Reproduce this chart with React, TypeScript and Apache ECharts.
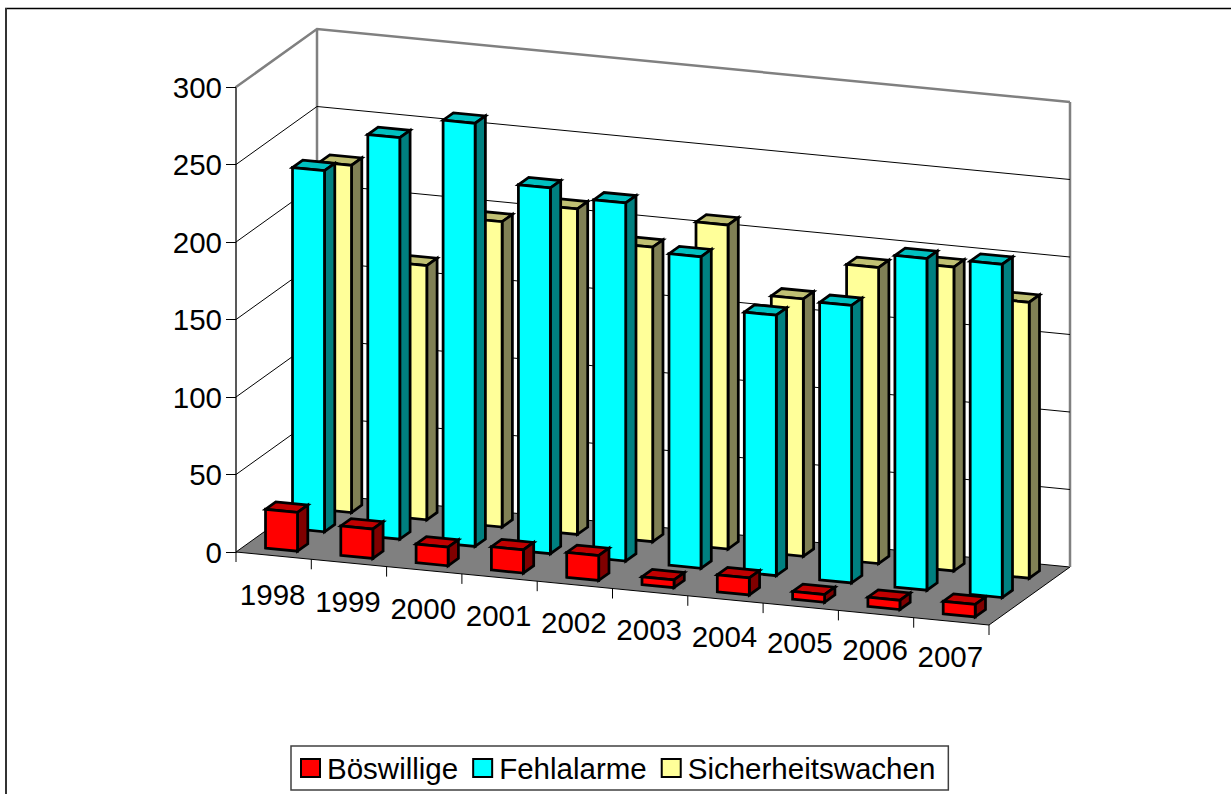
import React, { useEffect, useRef } from "react";
import * as echarts from "echarts";

const years = ["1998","1999","2000","2001","2002","2003","2004","2005","2006","2007"];
const yTicks = [0, 50, 100, 150, 200, 250, 300];
const boeswillige = [25, 19, 12, 15, 16, 5, 11, 5, 6, 8];
const fehlalarme = [233, 259, 273, 236, 231, 201, 168, 179, 214, 215];
const sicherheitswachen = [224, 164, 197, 210, 190, 209, 166, 191, 196, 178];

const FONT = "Liberation Sans";
const GX = 236, GY = 87, GW = 753, GH = 465;
const SHEAR = 73 / 753;
const DX = 81, DY = -58;
const BAR_W = 0.425; // of band
const BAR_D = 0.127; // of depth
const palette = [
  { name: "Böswillige", face: "#FF0000", top: "#C00000", side: "#800000", values: boeswillige, row: 0 },
  { name: "Fehlalarme", face: "#00FFFF", top: "#00C0C0", side: "#008080", values: fehlalarme, row: 1 },
  { name: "Sicherheitswachen", face: "#FFFF99", top: "#C0C073", side: "#808055", values: sicherheitswachen, row: 2 },
];

function proj(x: number, y: number, d: number): number[] {
  return [x + d * DX, y + (x - GX) * SHEAR + d * DY];
}

function barRender(row: number, colors: { face: string; top: string; side: string }) {
  return (params: any, api: any) => {
    const i = api.value(0);
    const v = api.value(1);
    const band = api.size([1, 0])[0];
    const c1 = api.coord([i, v]);
    const c0 = api.coord([i, 0]);
    const xl = c0[0] - (BAR_W * band) / 2 - 0.5;
    const xr = xl + BAR_W * band;
    const d0 = row / 3 + (1 / 3 - BAR_D) / 2;
    const d1 = d0 + BAR_D;
    const yB = c0[1], yT = c1[1];
    const style = (fill: string) => ({ fill, stroke: "#000", lineWidth: 2.75, lineJoin: "miter" });
    return {
      type: "group",
      children: [
        { type: "polygon", shape: { points: [proj(xl, yT, d0), proj(xr, yT, d0), proj(xr, yT, d1), proj(xl, yT, d1)] }, style: style(colors.top) },
        { type: "polygon", shape: { points: [proj(xr, yB, d0), proj(xr, yT, d0), proj(xr, yT, d1), proj(xr, yB, d1)] }, style: style(colors.side) },
        { type: "polygon", shape: { points: [proj(xl, yB, d0), proj(xr, yB, d0), proj(xr, yT, d0), proj(xl, yT, d0)] }, style: style(colors.face) },
      ],
    };
  };
}

function gridRender(params: any, api: any) {
  const v = api.value(0);
  const band = api.size([1, 0])[0];
  const c = api.coord([0, v]);
  const xl = c[0] - band / 2;
  const xr = xl + 10 * band;
  const y = c[1];
  const top = v === 300;
  const st = { stroke: top ? "#808080" : "#000", lineWidth: top ? 2.5 : 1, fill: "none" };
  return {
    type: "polyline",
    shape: { points: [proj(xl, y, 0), proj(xl, y, 1), proj(xr, y, 1)] },
    style: st,
  };
}

function wallRender(params: any, api: any) {
  const band = api.size([1, 0])[0];
  const c0 = api.coord([0, 0]);
  const c3 = api.coord([0, 300]);
  const xl = c0[0] - band / 2;
  const xr = xl + 10 * band;
  const y0 = c0[1], y3 = c3[1];
  const gray = { stroke: "#808080", lineWidth: 2.5, fill: "none" };
  return {
    type: "group",
    children: [
      { type: "polygon", shape: { points: [proj(xl, y0, 0), proj(xr, y0, 0), proj(xr, y0, 1), proj(xl, y0, 1)] }, style: { fill: "#808080", stroke: "#000", lineWidth: 1 } },
      { type: "line", shape: { x1: proj(xl, y0, 1)[0], y1: proj(xl, y0, 1)[1], x2: proj(xl, y3, 1)[0], y2: proj(xl, y3, 1)[1] }, style: gray },
      { type: "line", shape: { x1: proj(xr, y0, 1)[0], y1: proj(xr, y0, 1)[1], x2: proj(xr, y3, 1)[0], y2: proj(xr, y3, 1)[1] }, style: gray },
    ],
  };
}

function xAxisRender(params: any, api: any) {
  const i = api.value(0);
  const band = api.size([1, 0])[0];
  const c = api.coord([i, 0]);
  const tx = c[0] + band / 2;
  const p = proj(tx, c[1], 0);
  const lp = proj(c[0], c[1], 0);
  const kids: any[] = [
    { type: "line", shape: { x1: p[0], y1: p[1], x2: p[0], y2: p[1] + 10 }, style: { stroke: "#000", lineWidth: 1 } },
    {
      type: "text",
      x: lp[0] - 1,
      y: lp[1] + 39 - (c[0] - GX) * 0.005,
      style: { text: years[i], fill: "#000", font: `29.5px "${FONT}"`, align: "center", verticalAlign: "middle" },
    },
  ];
  if (i === 0) {
    const q = proj(c[0] - band / 2, c[1], 0);
    kids.push({ type: "line", shape: { x1: q[0], y1: q[1], x2: q[0], y2: q[1] + 10 }, style: { stroke: "#000", lineWidth: 1 } });
  }
  return { type: "group", children: kids };
}

export default function App() {
  const ref = useRef<HTMLDivElement>(null);
  useEffect(() => {
    const chart = echarts.init(ref.current!, undefined, { renderer: "svg" });
    chart.setOption({
      animation: false,
      backgroundColor: "#fff",
      grid: { left: GX, top: GY, width: GW, height: GH },
      xAxis: { type: "category", data: years, show: false },
      yAxis: {
        type: "value",
        min: 0,
        max: 300,
        interval: 50,
        splitLine: { show: false },
        axisLine: { show: true, lineStyle: { color: "#595959", width: 2 } },
        axisTick: { show: true, length: 10, lineStyle: { color: "#000", width: 1 } },
        axisLabel: { color: "#000", fontFamily: FONT, fontSize: 29.5, margin: 14 },
      },
      legend: {
        left: 291,
        top: 746,
        data: palette.map((p) => p.name),
        icon: "rect",
        itemWidth: 19,
        itemHeight: 18,
        itemGap: 14,
        padding: [7, 13, 7, 9],
        backgroundColor: "#fff",
        borderColor: "#404040",
        borderWidth: 1.5,
        selectedMode: false,
        itemStyle: { borderColor: "#000", borderWidth: 2 },
        textStyle: { color: "#000", fontFamily: FONT, fontSize: 29.5, padding: [0, 0, 0, 2] },
      },
      graphic: [
        { type: "line", shape: { x1: 5, y1: 8.5, x2: 1231, y2: 8.5 }, style: { stroke: "#000", lineWidth: 1.5 } },
        { type: "line", shape: { x1: 6, y1: 8, x2: 6, y2: 794 }, style: { stroke: "#333", lineWidth: 2 } },
      ],
      series: [
        { type: "custom", silent: true, z: 1, renderItem: wallRender, data: [[0]], encode: { x: 0 } },
        { type: "custom", silent: true, z: 2, renderItem: gridRender, data: yTicks.slice(1).map((t) => [t]) },
        { type: "custom", silent: true, z: 2, renderItem: xAxisRender, data: years.map((_, i) => [i]), encode: { x: 0 } },
        ...[...palette].reverse().map((p, k) => ({
          type: "custom",
          name: p.name,
          silent: true,
          z: 3 + k,
          itemStyle: { color: p.face },
          renderItem: barRender(p.row, p),
          data: p.values.map((v, i) => [i, v]),
          encode: { x: 0, y: 1 },
        })),
      ],
    });
    return () => chart.dispose();
  }, []);
  return <div ref={ref} style={{ position: "absolute", left: 0, top: 0, width: 1231, height: 794 }} />;
}
